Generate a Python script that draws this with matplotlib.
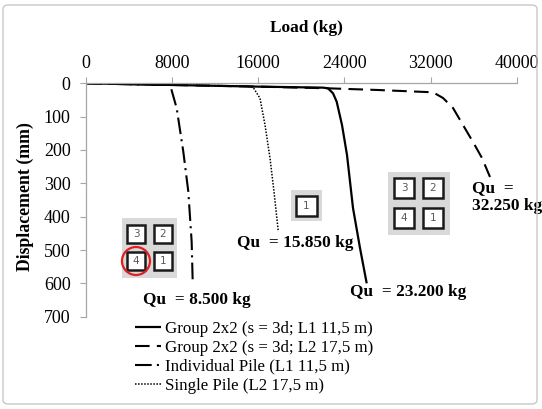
import numpy as np
import matplotlib.pyplot as plt
from matplotlib.patches import Rectangle, Ellipse, FancyBboxPatch

W, H = 542, 409
TEXT_COLOR = '#000000'
SPINE_COLOR = '#a6a6a6'
PANEL_GREY = '#d9d9d9'

plt.rcParams['font.family'] = ['Liberation Serif', 'DejaVu Serif']

# Load (kg) vs displacement (mm)
group_l1_load = [0, 8000, 16000, 22000, 22475, 22940, 23280, 23775, 24240, 24797, 25447, 26070]
group_l1_disp = [0, 5, 10, 13, 15, 30, 55, 125, 215, 374, 494, 600]

group_l2_load = [0, 8000, 16000, 22475, 27026, 32227, 33155, 34084, 35012, 35941, 36777, 37520]
group_l2_disp = [0, 5, 10, 15, 20, 27, 44, 74, 125, 176, 224, 281]

indiv_load = [0, 4000, 7600, 7900, 8423, 9037, 9502, 9812, 9905]
indiv_disp = [0, 3, 5, 15, 75, 205, 325, 475, 590]

single_load = [0, 8000, 15000, 15540, 16160, 16625, 17090, 17460, 17860]
single_disp = [0, 4, 9, 13, 45, 125, 225, 325, 445]

x_ticks = [0, 8000, 16000, 24000, 32000, 40000]
y_ticks = [0, 100, 200, 300, 400, 500, 600, 700]

legend_labels = ['Group 2x2 (s = 3d; L1 11,5 m)', 'Group 2x2 (s = 3d; L2 17,5 m)',
                 'Individual Pile (L1 11,5 m)', 'Single Pile (L2 17,5 m)']

qu_labels = ['Qu  = 8.500 kg', 'Qu  = 15.850 kg', 'Qu  = 23.200 kg', 'Qu  =\n32.250 kg']
qu_pos = [(5294, 650), (14024, 479), (24518, 626), (35849, 341)]


def fx(px):
    return px / W


def fy(py):
    return 1 - py / H


def px_rect(x0, y0, x1, y1, **kw):
    r = Rectangle((fx(x0), fy(y1)), (x1 - x0) / W, (y1 - y0) / H, transform=fig.transFigure, **kw)
    fig.add_artist(r)
    return r


def pile_box(x0, y0, x1, y1, label):
    px_rect(x0, y0, x1, y1, facecolor='white', edgecolor='#1a1a1a', linewidth=1.8, zorder=5)
    fig.text(fx((x0 + x1) / 2), fy((y0 + y1) / 2), label, ha='center', va='center',
             fontsize=7.5, color='#595959', family=['DejaVu Sans'], zorder=6)


fig = plt.figure(figsize=(W / 100, H / 100), dpi=100, facecolor='white')

# outer frame
fig.add_artist(FancyBboxPatch((fx(3), fy(404)), 534 / W, 399 / H, boxstyle='round,pad=0,rounding_size=0.01',
                              transform=fig.transFigure, facecolor='none', edgecolor='#c8c8c8', linewidth=1.0))

ax = fig.add_axes([fx(86), fy(316.7), 430.7 / W, 233.4 / H])

l1, = ax.plot(group_l1_load, group_l1_disp, color='black', linewidth=1.6, solid_capstyle='butt')
l2, = ax.plot(group_l2_load, group_l2_disp, color='black', linewidth=1.5, dashes=(7, 3.5))
l3, = ax.plot(indiv_load, indiv_disp, color='black', linewidth=1.5, dashes=(8, 2.5, 1, 2.5))
l4, = ax.plot(single_load, single_disp, color='black', linewidth=1.1, dashes=(1, 1))

ax.set_xlim(0, 40000)
ax.set_ylim(700, 0)
ax.set_xticks(x_ticks)
ax.set_yticks(y_ticks)
ax.xaxis.tick_top()
ax.tick_params(axis='x', direction='out', length=4, width=0.8, color=SPINE_COLOR, pad=4, labelsize=13,
               labelcolor=TEXT_COLOR)
ax.tick_params(axis='y', direction='out', length=4, width=0.8, color=SPINE_COLOR, pad=7, labelsize=13,
               labelcolor=TEXT_COLOR)
for side in ['right', 'bottom']:
    ax.spines[side].set_visible(False)
for side in ['top', 'left']:
    ax.spines[side].set_color(SPINE_COLOR)
    ax.spines[side].set_linewidth(0.9)

fig.text(fx(306), fy(28), 'Load (kg)', ha='center', va='center', fontsize=12.5, fontweight='bold')
fig.text(fx(25), fy(197), 'Displacement (mm)', ha='center', va='center', rotation=90,
         fontsize=12.8, fontweight='bold')

for lab, (xq, yq) in zip(qu_labels, qu_pos):
    ax.text(xq, yq, lab, ha='left', va='center', fontsize=12.4, fontweight='bold',
            linespacing=1.1, clip_on=False)

# pile layout sketches
px_rect(122, 218, 177, 278, facecolor=PANEL_GREY, edgecolor='none', zorder=4)
pile_box(127, 225, 145, 243, '3')
pile_box(154, 225, 172, 243, '2')
pile_box(127, 252, 145, 270, '4')
pile_box(154, 252, 172, 270, '1')
fig.add_artist(Ellipse((fx(136), fy(261)), 28 / W, 28 / H, transform=fig.transFigure,
                       facecolor='none', edgecolor='#e02020', linewidth=1.6, zorder=7))

px_rect(291, 190, 322, 221, facecolor=PANEL_GREY, edgecolor='none', zorder=4)
pile_box(296, 196, 317, 216, '1')

px_rect(388, 172, 450, 235, facecolor=PANEL_GREY, edgecolor='none', zorder=4)
pile_box(394, 178, 414, 198, '3')
pile_box(423, 178, 443, 198, '2')
pile_box(394, 208, 414, 228, '4')
pile_box(423, 208, 443, 228, '1')

fig.legend([l1, l2, l3, l4], legend_labels, loc='upper left', bbox_to_anchor=(fx(135), fy(321)),
           frameon=False, fontsize=12.2, borderpad=0, borderaxespad=0, handlelength=1.55,
           handletextpad=0.2, labelspacing=0.17)

fig.savefig('out.png', dpi=100, facecolor='white')
